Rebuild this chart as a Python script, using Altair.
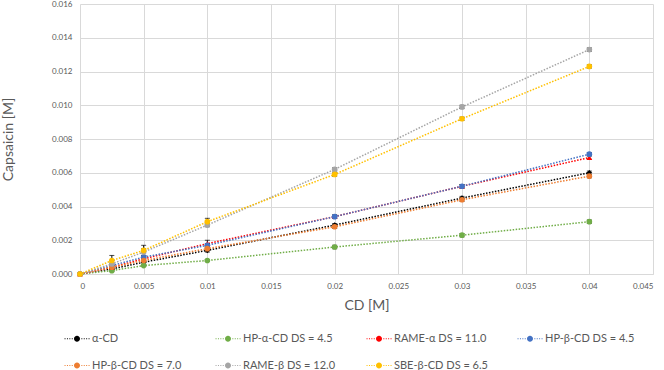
import altair as alt
import pandas as pd

cd = [0, 0.0025, 0.005, 0.01, 0.02, 0.03, 0.04]
series_names = ["α-CD", "HP-α-CD DS = 4.5", "RAME-α DS = 11.0", "HP-β-CD DS = 4.5",
                "HP-β-CD DS = 7.0", "RAME-β DS = 12.0", "SBE-β-CD DS = 6.5"]
colors = ["#000000", "#70AD47", "#FF0000", "#4472C4", "#ED7D31", "#A5A5A5", "#FFC000"]
shapes = ["diamond", "circle", "triangle-up", "circle", "circle", "circle", "circle"]

alpha_cd = [0, 0.0003, 0.0007, 0.0014, 0.0029, 0.0045, 0.0060]
hp_alpha_45 = [0, 0.0002, 0.0005, 0.0008, 0.0016, 0.0023, 0.0031]
rame_alpha_11 = [0, 0.0004, 0.0009, 0.0018, 0.0034, 0.0052, 0.0069]
hp_beta_45 = [0, 0.0005, 0.0010, 0.0017, 0.0034, 0.0052, 0.0071]
hp_beta_70 = [0, 0.0004, 0.0008, 0.0015, 0.0028, 0.0044, 0.0058]
rame_beta_12 = [0, 0.0006, 0.0013, 0.0029, 0.0062, 0.0099, 0.0133]
sbe_beta_65 = [0, 0.0008, 0.0014, 0.0031, 0.0059, 0.0092, 0.0123]

err_alpha_cd = [0, 0.00005, 0.00005, 0.0001, 0.0001, 0.0001, 0.0001]
err_hp_alpha_45 = [0, 0.00005, 0.00005, 0.00005, 0.0001, 0.0001, 0.0001]
err_rame_alpha_11 = [0, 0.0001, 0.0001, 0.0002, 0.0001, 0.0001, 0.0001]
err_hp_beta_45 = [0, 0.0001, 0.0001, 0.0001, 0.0001, 0.0001, 0.0001]
err_hp_beta_70 = [0, 0.0001, 0.0001, 0.0001, 0.0001, 0.0001, 0.0001]
err_rame_beta_12 = [0, 0.0002, 0.0002, 0.0001, 0.0001, 0.0001, 0.0001]
err_sbe_beta_65 = [0, 0.0003, 0.0003, 0.0002, 0.0001, 0.0001, 0.0001]

values = [alpha_cd, hp_alpha_45, rame_alpha_11, hp_beta_45, hp_beta_70, rame_beta_12, sbe_beta_65]
errors = [err_alpha_cd, err_hp_alpha_45, err_rame_alpha_11, err_hp_beta_45, err_hp_beta_70,
          err_rame_beta_12, err_sbe_beta_65]

rows = []
for i, (name, vals, errs, shp) in enumerate(zip(series_names, values, errors, shapes)):
    for x, v, e in zip(cd, vals, errs):
        rows.append({"series": name, "order": i, "shp": shp, "cd": x, "cap": v,
                     "lo": v - e, "hi": v + e})
df = pd.DataFrame(rows)

# legend symbol: dotted line with a circle marker
parts = []
x = -4.15
while x < 4.1:
    if abs(x + 0.16) > 1.15:
        parts.append(f"M{x:.2f},-0.17h0.33v0.34h-0.33Z")
    x += 0.8
parts.append("M-1,0A1,1 0 1,1 1,0A1,1 0 1,1 -1,0Z")
legend_path = "".join(parts)

font = "Lato"
grey = "#595959"

xscale = alt.Scale(domain=[0, 0.045], nice=False)
yscale = alt.Scale(domain=[0, 0.016], nice=False)
color_scale = alt.Scale(domain=series_names, range=colors)

xaxis = alt.Axis(values=[0, 0.005, 0.01, 0.015, 0.02, 0.025, 0.03, 0.035, 0.04, 0.045],
                 format="~g", title="CD [M]", ticks=False, labelPadding=8, titlePadding=8,
                 domainColor="#D9D9D9", gridColor="#D9D9D9", labelOverlap=False)
yaxis = alt.Axis(values=[0, 0.002, 0.004, 0.006, 0.008, 0.010, 0.012, 0.014, 0.016],
                 format=".3f", title="Capsaicin [M]", ticks=False, labelPadding=8,
                 titlePadding=36, domain=False, gridColor="#D9D9D9", labelOverlap=False)

legend = alt.Legend(title=None, orient="none", legendX=-18, legendY=329,
                    columns=4, columnPadding=27, rowPadding=15, gridAlign="all",
                    symbolType=legend_path, symbolSize=36,
                    symbolStrokeWidth=0, symbolOffset=9.5,
                    labelOffset=9.5, labelFont=font, labelFontSize=11,
                    labelColor=grey, direction="horizontal")

X = alt.X("cd:Q", scale=xscale, axis=xaxis)
Y = alt.Y("cap:Q", scale=yscale, axis=yaxis)
C = alt.Color("series:N", scale=color_scale, legend=legend)

base = alt.Chart(df)

lines = base.mark_line(strokeDash=[1.5, 1.5], strokeWidth=1.5).encode(
    x=X, y=Y, color=C, detail="series:N", order="cd:Q",
)

errs = base.mark_rule(color="#000000", strokeWidth=1).encode(
    x=X, y=alt.Y("lo:Q", scale=yscale, axis=yaxis), y2="hi:Q",
)
caps_hi = base.mark_tick(color="#000000", thickness=1, size=5, orient="horizontal").encode(
    x=X, y=alt.Y("hi:Q", scale=yscale, axis=yaxis),
)
caps_lo = base.mark_tick(color="#000000", thickness=1, size=5, orient="horizontal").encode(
    x=X, y=alt.Y("lo:Q", scale=yscale, axis=yaxis),
)

points = base.mark_point(filled=True, size=32, opacity=1).encode(
    x=X, y=Y, color=C, shape=alt.Shape("shp:N", scale=None),
)

chart = alt.layer(lines, errs, caps_hi, caps_lo, points).properties(
    width=573, height=270,
    autosize=alt.AutoSizeParams(type="none"),
    padding={"left": 80, "top": 4, "right": 11, "bottom": 96},
    background="white",
).configure_view(stroke=None).configure_axis(
    labelFont=font, labelFontSize=8, labelColor=grey,
    titleFont=font, titleFontSize=14, titleColor=grey, titleFontWeight="normal",
)

chart.save("out.html", embed_options={"renderer": "svg", "actions": False})
